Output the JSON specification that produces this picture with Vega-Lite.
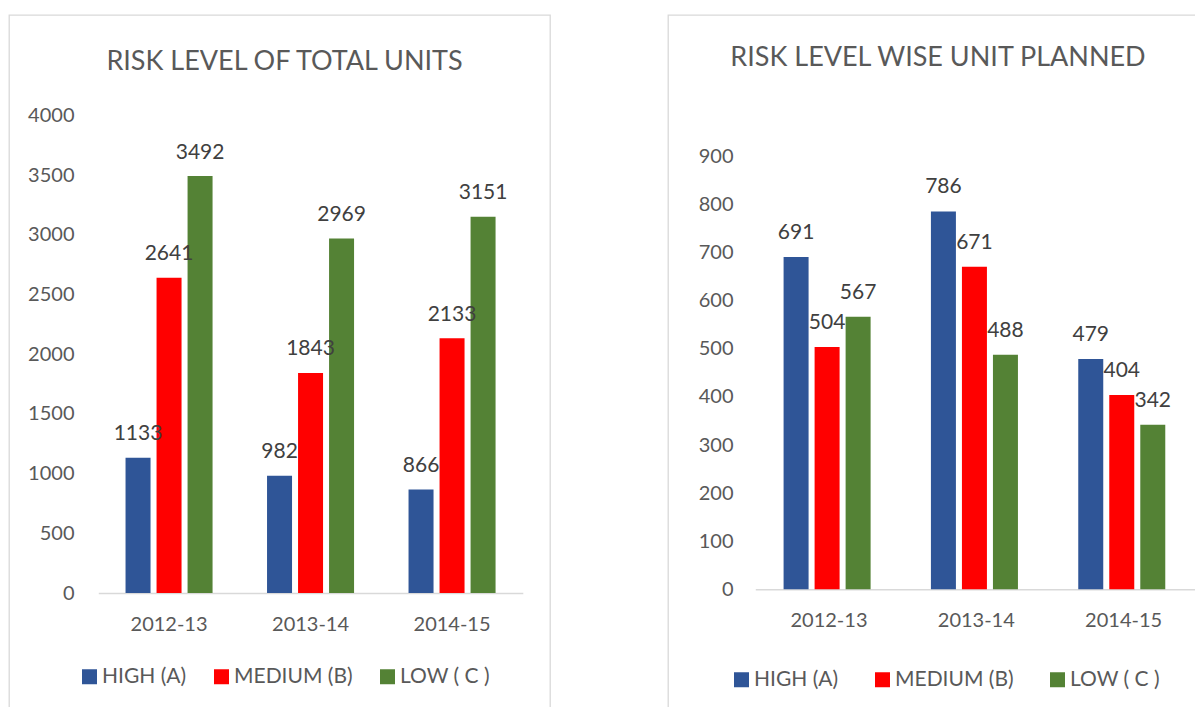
{
  "$schema": "https://vega.github.io/schema/vega-lite/v6.json",
  "padding": {"left": 8, "top": 14, "right": -16, "bottom": -8},
  "background": "white",
  "datasets": {
    "total": [
      {"year": "2012-13", "risk": "HIGH (A)", "value": 1133},
      {"year": "2012-13", "risk": "MEDIUM (B)", "value": 2641},
      {"year": "2012-13", "risk": "LOW ( C )", "value": 3492},
      {"year": "2013-14", "risk": "HIGH (A)", "value": 982},
      {"year": "2013-14", "risk": "MEDIUM (B)", "value": 1843},
      {"year": "2013-14", "risk": "LOW ( C )", "value": 2969},
      {"year": "2014-15", "risk": "HIGH (A)", "value": 866},
      {"year": "2014-15", "risk": "MEDIUM (B)", "value": 2133},
      {"year": "2014-15", "risk": "LOW ( C )", "value": 3151}
    ],
    "planned": [
      {"year": "2012-13", "risk": "HIGH (A)", "value": 691},
      {"year": "2012-13", "risk": "MEDIUM (B)", "value": 504},
      {"year": "2012-13", "risk": "LOW ( C )", "value": 567},
      {"year": "2013-14", "risk": "HIGH (A)", "value": 786},
      {"year": "2013-14", "risk": "MEDIUM (B)", "value": 671},
      {"year": "2013-14", "risk": "LOW ( C )", "value": 488},
      {"year": "2014-15", "risk": "HIGH (A)", "value": 479},
      {"year": "2014-15", "risk": "MEDIUM (B)", "value": 404},
      {"year": "2014-15", "risk": "LOW ( C )", "value": 342}
    ]
  },
  "hconcat": [
    {
      "width": 541,
      "height": 701,
      "data": {"name": "total"},
      "title": {"text": "RISK LEVEL OF TOTAL UNITS", "offset": -82, "baseline": "alphabetic", "dx": 5},
      "encoding": {
        "x": {"field": "year", "type": "nominal",
          "scale": {"range": [89.3, 513.8], "paddingInner": 0.385, "paddingOuter": 0.1925},
          "axis": {"title": null, "orient": "bottom", "offset": -123, "labelPadding": 21}},
        "xOffset": {"field": "risk", "type": "nominal", "sort": ["HIGH (A)", "MEDIUM (B)", "LOW ( C )"],
          "scale": {"paddingInner": 0.194, "paddingOuter": 0}},
        "y": {"field": "value", "type": "quantitative",
          "scale": {"domain": [0, 4000], "range": [578, 100.4], "nice": false, "zero": true},
          "axis": {"title": null, "format": "d", "values": [0, 500, 1000, 1500, 2000, 2500, 3000, 3500, 4000], "offset": -65, "labelPadding": 0, "grid": false, "domain": false, "ticks": false}}
      },
      "layer": [
        {"mark": {"type": "bar"},
         "encoding": {"color": {"field": "risk", "type": "nominal",
           "scale": {"domain": ["HIGH (A)", "MEDIUM (B)", "LOW ( C )"], "range": ["#2F5597", "#FF0000", "#548235"]},
           "legend": {"title": null, "orient": "none", "legendX": 70, "legendY": 651, "direction": "horizontal", "columnPadding": 24}}}},
        {"mark": {"type": "text", "dy": -17.5, "baseline": "alphabetic", "align": "center", "fontSize": 21, "color": "#404040"},
         "encoding": {"text": {"field": "value", "type": "quantitative", "format": "d"}}}
      ]
    },
    {
      "width": 546,
      "height": 701,
      "data": {"name": "planned"},
      "title": {"text": "RISK LEVEL WISE UNIT PLANNED", "offset": -78, "baseline": "alphabetic", "dx": -3},
      "encoding": {
        "x": {"field": "year", "type": "nominal",
          "scale": {"range": [87.3, 529.3], "paddingInner": 0.384, "paddingOuter": 0.192},
          "axis": {"title": null, "orient": "bottom", "offset": -126.7, "labelPadding": 21}},
        "xOffset": {"field": "risk", "type": "nominal", "sort": ["HIGH (A)", "MEDIUM (B)", "LOW ( C )"],
          "scale": {"paddingInner": 0.21, "paddingOuter": 0}},
        "y": {"field": "value", "type": "quantitative",
          "scale": {"domain": [0, 900], "range": [574.3, 141.6], "nice": false, "zero": true},
          "axis": {"title": null, "format": "d", "values": [0, 100, 200, 300, 400, 500, 600, 700, 800, 900], "offset": -65, "labelPadding": 0, "grid": false, "domain": false, "ticks": false}}
      },
      "layer": [
        {"mark": {"type": "bar"},
         "encoding": {"color": {"field": "risk", "type": "nominal",
           "scale": {"domain": ["HIGH (A)", "MEDIUM (B)", "LOW ( C )"], "range": ["#2F5597", "#FF0000", "#548235"]},
           "legend": {"title": null, "orient": "none", "legendX": 63, "legendY": 654, "direction": "horizontal", "columnPadding": 33}}}},
        {"mark": {"type": "text", "dy": -18, "baseline": "alphabetic", "align": "center", "fontSize": 21, "color": "#404040"},
         "encoding": {"text": {"field": "value", "type": "quantitative", "format": "d"}}}
      ]
    }
  ],
  "spacing": 116,
  "resolve": {"scale": {"color": "independent"}, "legend": {"color": "independent"}},
  "config": {
    "font": "Lato",
    "view": {"stroke": "#D9D9D9", "strokeWidth": 1.3},
    "title": {"fontSize": 27, "fontWeight": "normal", "color": "#595959", "font": "Lato", "anchor": "middle"},
    "axis": {"labelFont": "Lato", "labelFontSize": 20, "labelColor": "#595959", "domainColor": "#D9D9D9", "domainWidth": 1.5, "ticks": false, "grid": false, "labelAngle": 0},
    "axisY": {"domain": false},
    "legend": {"labelFont": "Lato", "labelFontSize": 21, "labelColor": "#595959", "symbolType": "square", "symbolSize": 225, "symbolStrokeWidth": 0, "symbolOpacity": 1, "labelOffset": 2, "labelLimit": 300}
  }
}
